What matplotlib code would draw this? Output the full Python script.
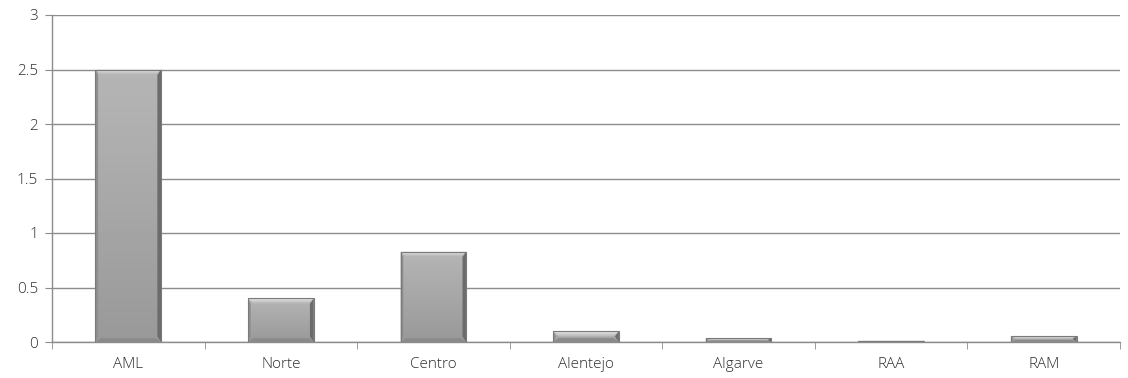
import numpy as np
import matplotlib
matplotlib.use("Agg")
import matplotlib.pyplot as plt
from matplotlib.patches import Polygon

regions = ["AML", "Norte", "Centro", "Alentejo", "Algarve", "RAA", "RAM"]
values = [2.5, 0.40, 0.83, 0.10, 0.035, 0.012, 0.055]
y_ticks = [0, 0.5, 1, 1.5, 2, 2.5, 3]
y_tick_labels = ["0", "0.5", "1", "1.5", "2", "2.5", "3"]

plt.rcParams["font.family"] = ["Open Sans", "DejaVu Sans"]
plt.rcParams["font.weight"] = "light"

fig = plt.figure(figsize=(11.28, 3.78), dpi=100)
ax = fig.add_axes([52 / 1128, 1 - 342 / 378, (1120 - 52) / 1128, (342 - 15) / 378])

ax.set_xlim(-0.5, len(regions) - 0.5)
ax.set_ylim(0, 3)

x = np.arange(len(regions))
width = 0.43
bars = ax.bar(x, values, width=width, color="#a6a6a6", edgecolor="none",
              linewidth=0, zorder=3)

# bevel sizes in data units (about 5-6 px)
bx = 0.035
by = 0.05

vert = np.linspace(0.71, 0.60, 64).reshape(-1, 1)
cap_grad = np.linspace(0.90, 0.70, 16).reshape(-1, 1)
for b, v in zip(bars, values):
    x0 = b.get_x()
    x1 = x0 + width
    im = ax.imshow(np.hstack([vert, vert]), cmap="gray", vmin=0, vmax=1,
                   aspect="auto", extent=[x0, x1, 0, v], origin="upper",
                   zorder=3.2, interpolation="bicubic")
    im.set_clip_path(b)
    h = min(by, v / 2)
    w = min(bx, width / 2)
    # light bevel along the top, fading downwards
    top = Polygon([(x0, v), (x1, v), (x1 - w, v - h), (x0 + w, v - h)],
                  closed=True, facecolor="none", edgecolor="none", zorder=3.4)
    ax.add_patch(top)
    cap = ax.imshow(np.hstack([cap_grad, cap_grad]), cmap="gray", vmin=0, vmax=1,
                    aspect="auto", extent=[x0, x1, v - h, v], origin="upper",
                    zorder=3.4, interpolation="bicubic")
    cap.set_clip_path(top)
    right = Polygon([(x1, v), (x1, 0), (x1 - w * 0.7, h), (x1 - w * 0.7, v - h)],
                    closed=True, facecolor="#6c6c6c", edgecolor="none", zorder=3.5)
    left = Polygon([(x0, v), (x0, 0), (x0 + w * 0.5, h), (x0 + w * 0.5, v - h)],
                   closed=True, facecolor="#8e8e8e", edgecolor="none", zorder=3.5)
    bottom = Polygon([(x0, 0), (x1, 0), (x1 - w, h * 0.7), (x0 + w, h * 0.7)],
                     closed=True, facecolor="#8a8a8a", edgecolor="none", zorder=3.3)
    for p in (right, left, bottom):
        ax.add_patch(p)
    ax.bar(x0 + width / 2, v, width=width, fill=False,
           edgecolor="#7a7a7a", linewidth=0.8, zorder=3.8)

ax.set_yticks(y_ticks)
ax.set_yticklabels(y_tick_labels)
ax.set_xticks(x)
ax.set_xticklabels(regions)
ax.set_xticks(np.arange(len(regions) + 1) - 0.5, minor=True)

ax.grid(axis="y", color="#8c8c8c", linewidth=1.0, zorder=0)
for s in ["top", "right"]:
    ax.spines[s].set_visible(False)
for s in ["left", "bottom"]:
    ax.spines[s].set_color("#8c8c8c")
    ax.spines[s].set_linewidth(1.0)

ax.tick_params(axis="y", direction="out", length=5, color="#8c8c8c",
               labelsize=11, labelcolor="#303030", pad=5)
ax.tick_params(axis="x", which="major", length=0, labelsize=11,
               labelcolor="#303030", pad=11)
ax.tick_params(axis="x", which="minor", direction="out", length=5,
               color="#8c8c8c")

fig.savefig("out.png", dpi=100)
